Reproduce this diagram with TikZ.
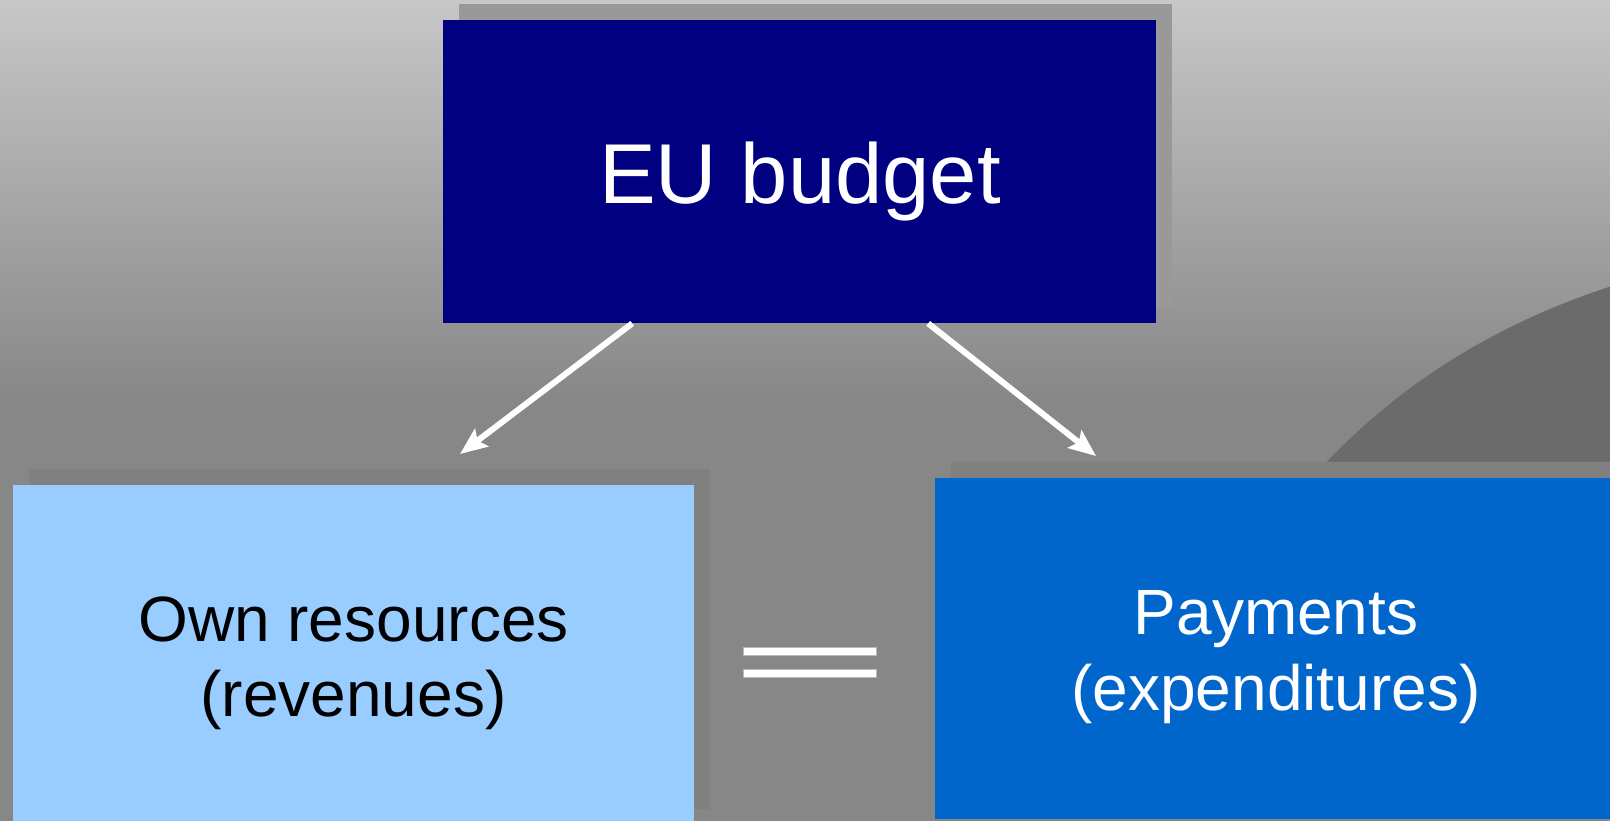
\documentclass[tikz,border=0pt]{standalone}
\usepackage{fontspec}
\setmainfont{Liberation Sans}
\usetikzlibrary{arrows.meta,shadows}
\definecolor{bgtop}{RGB}{199,199,199}
\definecolor{bgbot}{RGB}{135,135,135}
\definecolor{darkbg}{RGB}{107,107,107}
\definecolor{shtop}{RGB}{153,153,153}
\definecolor{shlow}{RGB}{128,128,128}
\definecolor{eunavy}{RGB}{0,0,128}
\definecolor{lightb}{RGB}{153,204,255}
\definecolor{midb}{RGB}{0,102,204}
\definecolor{eqedge}{RGB}{185,185,185}
\begin{document}
\begin{tikzpicture}[x=1pt,y=1pt,
  boxnode/.style={rectangle, draw=none, inner sep=0pt, anchor=north west},
  bigtxt/.style={inner sep=0pt, anchor=base, font=\fontsize{85}{100}\selectfont},
  lowtxt/.style={inner sep=0pt, anchor=base, font=\fontsize{64}{76}\selectfont},
  arr/.style={draw=white, line width=6pt, -{Stealth[length=27pt,width=22pt,inset=5pt]}},
  eqbar/.style={fill=white, draw=eqedge, line width=0.8pt}
]
\useasboundingbox (0,0) rectangle (1610,-821);
% background
\shade[top color=bgtop, bottom color=bgbot] (0,0) rectangle (1610,-400);
\fill[bgbot] (0,-400) rectangle (1610,-821);
\fill[darkbg] (1310,-480) .. controls (1390,-390) and (1490,-325) .. (1615,-285) -- (1615,-480) -- cycle;

% boxes
\node[boxnode, fill=eunavy, minimum width=713pt, minimum height=303pt,
      general shadow={fill=shtop, shadow xshift=16pt, shadow yshift=16pt}] (eu) at (443,-20) {};
\node[boxnode, fill=lightb, minimum width=681pt, minimum height=340pt,
      general shadow={fill=shlow, shadow xshift=16pt, shadow yshift=16pt}] (own) at (13,-485) {};
\node[boxnode, fill=midb, minimum width=682pt, minimum height=341pt,
      general shadow={fill=shlow, shadow xshift=16pt, shadow yshift=16pt}] (pay) at (935,-478) {};

% texts
\node[bigtxt, text=white] (eutxt) at (800,-204) {EU budget};
\node[lowtxt, text=black] (owntxt1) at (353.5,-641.5) {Own resources};
\node[lowtxt, text=black] (owntxt2) at (353.5,-716.5) {(revenues)};
\node[lowtxt, text=white] (paytxt1) at (1276,-634) {Payments};
\node[lowtxt, text=white] (paytxt2) at (1276,-710) {(expenditures)};

% arrows
\coordinate (lefttip) at (460,-454);
\coordinate (righttip) at (1096,-456);
\draw[arr] ([xshift=-167.5pt]eu.south) -- (lefttip);
\draw[arr] ([xshift=128.5pt]eu.south) -- (righttip);

% equals sign
\draw[eqbar] (743,-647) rectangle (876,-655);
\draw[eqbar] (743,-669) rectangle (876,-677);
\end{tikzpicture}
\end{document}
